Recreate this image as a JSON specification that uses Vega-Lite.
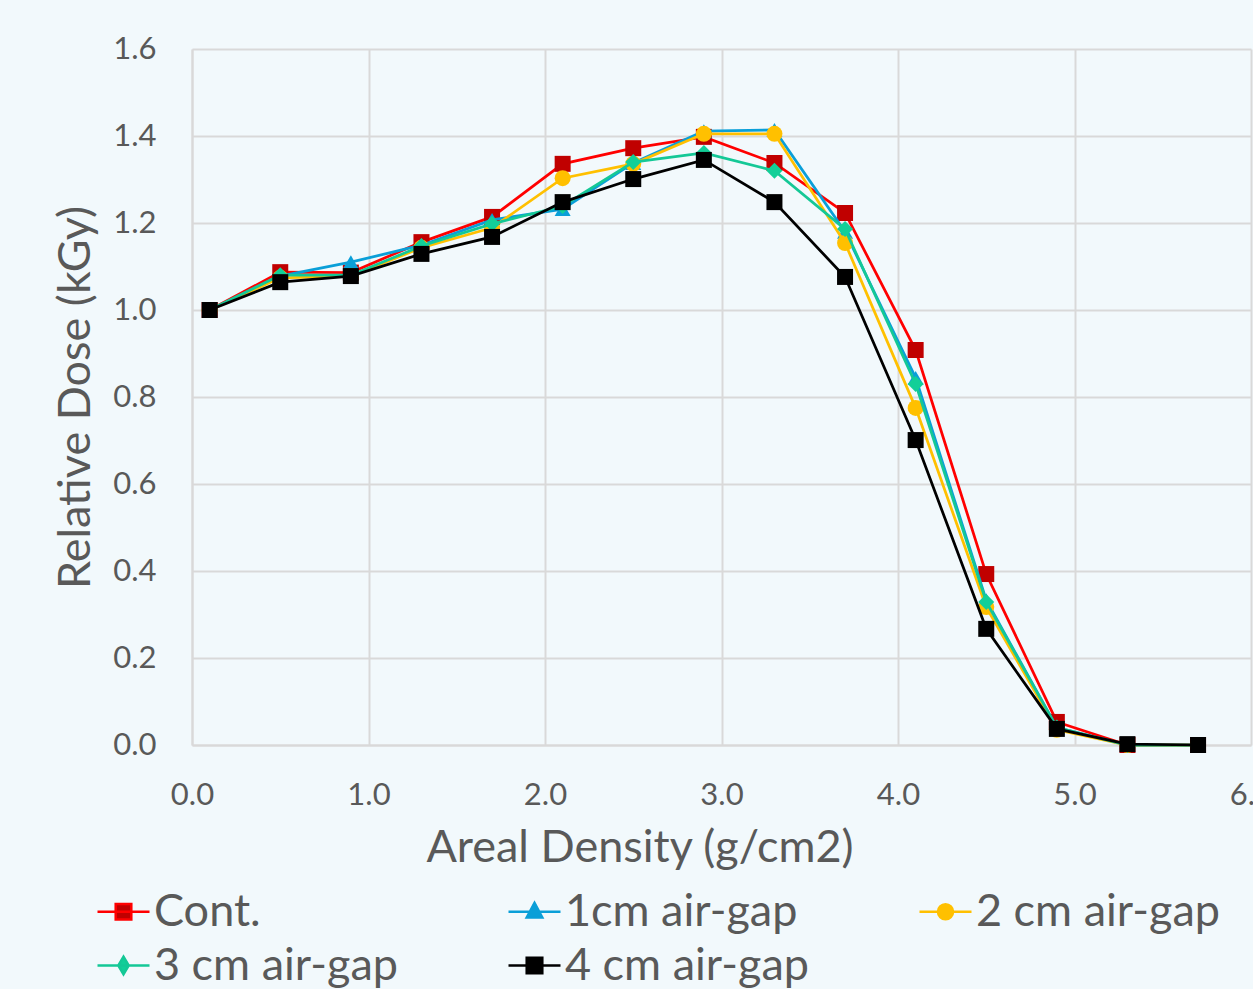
{
  "$schema": "https://vega.github.io/schema/vega-lite/v6.json",
  "width": 1059,
  "height": 696,
  "autosize": {"type": "none"},
  "padding": {"left": 192, "top": 49, "right": 2, "bottom": 244},
  "background": "#F2F9FC",
  "config": {"view": {"stroke": null}, "font": "Lato"},
  "data": {"values": [
    {"s": "Cont.", "x": 0.1, "y": 1.0}, {"s": "Cont.", "x": 0.5, "y": 1.087}, {"s": "Cont.", "x": 0.9, "y": 1.086}, {"s": "Cont.", "x": 1.3, "y": 1.156}, {"s": "Cont.", "x": 1.7, "y": 1.214}, {"s": "Cont.", "x": 2.1, "y": 1.336}, {"s": "Cont.", "x": 2.5, "y": 1.372}, {"s": "Cont.", "x": 2.9, "y": 1.398}, {"s": "Cont.", "x": 3.3, "y": 1.338}, {"s": "Cont.", "x": 3.7, "y": 1.223}, {"s": "Cont.", "x": 4.1, "y": 0.908}, {"s": "Cont.", "x": 4.5, "y": 0.393}, {"s": "Cont.", "x": 4.9, "y": 0.053}, {"s": "Cont.", "x": 5.3, "y": 0.0}, {"s": "Cont.", "x": 5.7, "y": 0.0},
    {"s": "1cm air-gap", "x": 0.1, "y": 1.0}, {"s": "1cm air-gap", "x": 0.5, "y": 1.078}, {"s": "1cm air-gap", "x": 0.9, "y": 1.11}, {"s": "1cm air-gap", "x": 1.3, "y": 1.149}, {"s": "1cm air-gap", "x": 1.7, "y": 1.207}, {"s": "1cm air-gap", "x": 2.1, "y": 1.232}, {"s": "1cm air-gap", "x": 2.5, "y": 1.338}, {"s": "1cm air-gap", "x": 2.9, "y": 1.411}, {"s": "1cm air-gap", "x": 3.3, "y": 1.414}, {"s": "1cm air-gap", "x": 3.7, "y": 1.18}, {"s": "1cm air-gap", "x": 4.1, "y": 0.844}, {"s": "1cm air-gap", "x": 4.5, "y": 0.333}, {"s": "1cm air-gap", "x": 4.9, "y": 0.04}, {"s": "1cm air-gap", "x": 5.3, "y": 0.0}, {"s": "1cm air-gap", "x": 5.7, "y": 0.0},
    {"s": "2 cm air-gap", "x": 0.1, "y": 1.0}, {"s": "2 cm air-gap", "x": 0.5, "y": 1.074}, {"s": "2 cm air-gap", "x": 0.9, "y": 1.078}, {"s": "2 cm air-gap", "x": 1.3, "y": 1.143}, {"s": "2 cm air-gap", "x": 1.7, "y": 1.189}, {"s": "2 cm air-gap", "x": 2.1, "y": 1.303}, {"s": "2 cm air-gap", "x": 2.5, "y": 1.336}, {"s": "2 cm air-gap", "x": 2.9, "y": 1.405}, {"s": "2 cm air-gap", "x": 3.3, "y": 1.405}, {"s": "2 cm air-gap", "x": 3.7, "y": 1.154}, {"s": "2 cm air-gap", "x": 4.1, "y": 0.775}, {"s": "2 cm air-gap", "x": 4.5, "y": 0.317}, {"s": "2 cm air-gap", "x": 4.9, "y": 0.035}, {"s": "2 cm air-gap", "x": 5.3, "y": 0.0}, {"s": "2 cm air-gap", "x": 5.7, "y": 0.0},
    {"s": "3 cm air-gap", "x": 0.1, "y": 1.0}, {"s": "3 cm air-gap", "x": 0.5, "y": 1.08}, {"s": "3 cm air-gap", "x": 0.9, "y": 1.08}, {"s": "3 cm air-gap", "x": 1.3, "y": 1.147}, {"s": "3 cm air-gap", "x": 1.7, "y": 1.198}, {"s": "3 cm air-gap", "x": 2.1, "y": 1.239}, {"s": "3 cm air-gap", "x": 2.5, "y": 1.34}, {"s": "3 cm air-gap", "x": 2.9, "y": 1.361}, {"s": "3 cm air-gap", "x": 3.3, "y": 1.32}, {"s": "3 cm air-gap", "x": 3.7, "y": 1.186}, {"s": "3 cm air-gap", "x": 4.1, "y": 0.83}, {"s": "3 cm air-gap", "x": 4.5, "y": 0.329}, {"s": "3 cm air-gap", "x": 4.9, "y": 0.04}, {"s": "3 cm air-gap", "x": 5.3, "y": 0.0}, {"s": "3 cm air-gap", "x": 5.7, "y": 0.0},
    {"s": "4 cm air-gap", "x": 0.1, "y": 1.0}, {"s": "4 cm air-gap", "x": 0.5, "y": 1.064}, {"s": "4 cm air-gap", "x": 0.9, "y": 1.078}, {"s": "4 cm air-gap", "x": 1.3, "y": 1.129}, {"s": "4 cm air-gap", "x": 1.7, "y": 1.168}, {"s": "4 cm air-gap", "x": 2.1, "y": 1.248}, {"s": "4 cm air-gap", "x": 2.5, "y": 1.301}, {"s": "4 cm air-gap", "x": 2.9, "y": 1.345}, {"s": "4 cm air-gap", "x": 3.3, "y": 1.248}, {"s": "4 cm air-gap", "x": 3.7, "y": 1.076}, {"s": "4 cm air-gap", "x": 4.1, "y": 0.701}, {"s": "4 cm air-gap", "x": 4.5, "y": 0.267}, {"s": "4 cm air-gap", "x": 4.9, "y": 0.037}, {"s": "4 cm air-gap", "x": 5.3, "y": 0.002}, {"s": "4 cm air-gap", "x": 5.7, "y": 0.0}
  ]},
  "encoding": {
    "x": {
      "field": "x", "type": "quantitative",
      "scale": {"domain": [0, 6], "nice": false},
      "axis": {
        "title": "Areal Density (g/cm2)",
        "values": [0, 1, 2, 3, 4, 5, 6], "format": ".1f",
        "grid": true, "gridColor": "#D9D9D9", "gridWidth": 2,
        "domainColor": "#D9D9D9", "domainWidth": 2,
        "ticks": false, "tickSize": 0,
        "labelFont": "Lato", "labelFontSize": 31, "labelColor": "#595959",
        "labelPadding": 50, "labelBaseline": "middle", "labelFlush": false, "labelOverlap": false,
        "titleFont": "Lato", "titleFontSize": 45, "titleColor": "#595959", "titleFontWeight": "normal",
        "titleX": 447.5, "titleY": 102, "titleBaseline": "middle", "titleAlign": "center"
      }
    },
    "y": {
      "field": "y", "type": "quantitative",
      "scale": {"domain": [0, 1.6], "nice": false},
      "axis": {
        "title": "Relative Dose (kGy)",
        "values": [0, 0.2, 0.4, 0.6, 0.8, 1.0, 1.2, 1.4, 1.6], "format": ".1f",
        "grid": true, "gridColor": "#D9D9D9", "gridWidth": 2,
        "domainColor": "#D9D9D9", "domainWidth": 2,
        "ticks": false, "tickSize": 0,
        "labelFont": "Lato", "labelFontSize": 31, "labelColor": "#595959",
        "labelPadding": 36, "labelOverlap": false, "labelFlush": false,
        "titleFont": "Lato", "titleFontSize": 45, "titleColor": "#595959", "titleFontWeight": "normal",
        "titleX": -117, "titleY": 348, "titleAngle": 270, "titleBaseline": "middle", "titleAlign": "center"
      }
    }
  },
  "layer": [
    {"transform": [{"filter": "datum.s === 'Cont.'"}], "mark": {"type": "line", "color": "#FF0000", "strokeWidth": 2.75}, "encoding": {}},
    {"transform": [{"filter": "datum.s === 'Cont.'"}], "mark": {"type": "point", "filled": true, "size": 256, "opacity": 1, "shape": "square", "color": "#C00000"}, "encoding": {}},
    {"transform": [{"filter": "datum.s === '1cm air-gap'"}], "mark": {"type": "line", "color": "#0A9FD8", "strokeWidth": 2.75}, "encoding": {}},
    {"transform": [{"filter": "datum.s === '1cm air-gap'"}], "mark": {"type": "point", "filled": true, "size": 256, "opacity": 1, "shape": "triangle-up", "color": "#0A9FD8"}, "encoding": {}},
    {"transform": [{"filter": "datum.s === '2 cm air-gap'"}], "mark": {"type": "line", "color": "#FFC000", "strokeWidth": 2.75}, "encoding": {}},
    {"transform": [{"filter": "datum.s === '2 cm air-gap'"}], "mark": {"type": "point", "filled": true, "size": 256, "opacity": 1, "shape": "circle", "color": "#FFC000"}, "encoding": {}},
    {"transform": [{"filter": "datum.s === '3 cm air-gap'"}], "mark": {"type": "line", "color": "#14C896", "strokeWidth": 2.75}, "encoding": {}},
    {"transform": [{"filter": "datum.s === '3 cm air-gap'"}], "mark": {"type": "point", "filled": true, "size": 256, "opacity": 1, "shape": "diamond", "color": "#12CF98"}, "encoding": {}},
    {"transform": [{"filter": "datum.s === '4 cm air-gap'"}], "mark": {"type": "line", "color": "#000000", "strokeWidth": 2.75}, "encoding": {}},
    {"transform": [{"filter": "datum.s === '4 cm air-gap'"}], "mark": {"type": "point", "filled": true, "size": 256, "opacity": 1, "shape": "square", "color": "#000000"}, "encoding": {}},
    {"transform": [{"filter": "false"}], "mark": {"type": "point", "filled": true, "opacity": 1, "strokeWidth": 2.5},
     "encoding": {
       "fill": {"field": "s", "type": "nominal",
         "scale": {"domain": ["Cont.", "1cm air-gap", "2 cm air-gap", "3 cm air-gap", "4 cm air-gap"], "range": ["#C00000", "#0A9FD8", "#FFC000", "#12CF98", "#000000"]},
         "legend": {
           "title": null, "orient": "none", "legendX": -96, "legendY": 835, "direction": "horizontal",
           "columns": 3, "columnPadding": 105, "rowPadding": 3, "padding": 0,
           "symbolSize": 2704, "symbolStrokeWidth": 2.5,
           "labelFont": "Lato", "labelFontSize": 45, "labelColor": "#595959", "labelOffset": 3, "labelLimit": 0
         }},
       "stroke": {"field": "s", "type": "nominal",
         "scale": {"domain": ["Cont.", "1cm air-gap", "2 cm air-gap", "3 cm air-gap", "4 cm air-gap"], "range": ["#FF0000", "#0A9FD8", "#FFC000", "#14C896", "#000000"]}},
       "shape": {"field": "s", "type": "nominal",
         "scale": {"domain": ["Cont.", "1cm air-gap", "2 cm air-gap", "3 cm air-gap", "4 cm air-gap"],
           "range": ["M-1,0H1M-0.3,-0.3H0.3V0.3H-0.3Z", "M-1,0H1M0,-0.34L0.3,0.22H-0.3Z", "M-1,0H1M0.29,0A0.29,0.29,0,1,1,-0.29,0A0.29,0.29,0,1,1,0.29,0Z", "M-1,0H1M0,-0.34L0.2,0L0,0.34L-0.2,0Z", "M-1,0H1M-0.3,-0.3H0.3V0.3H-0.3Z"]}}
     }}
  ]
}
